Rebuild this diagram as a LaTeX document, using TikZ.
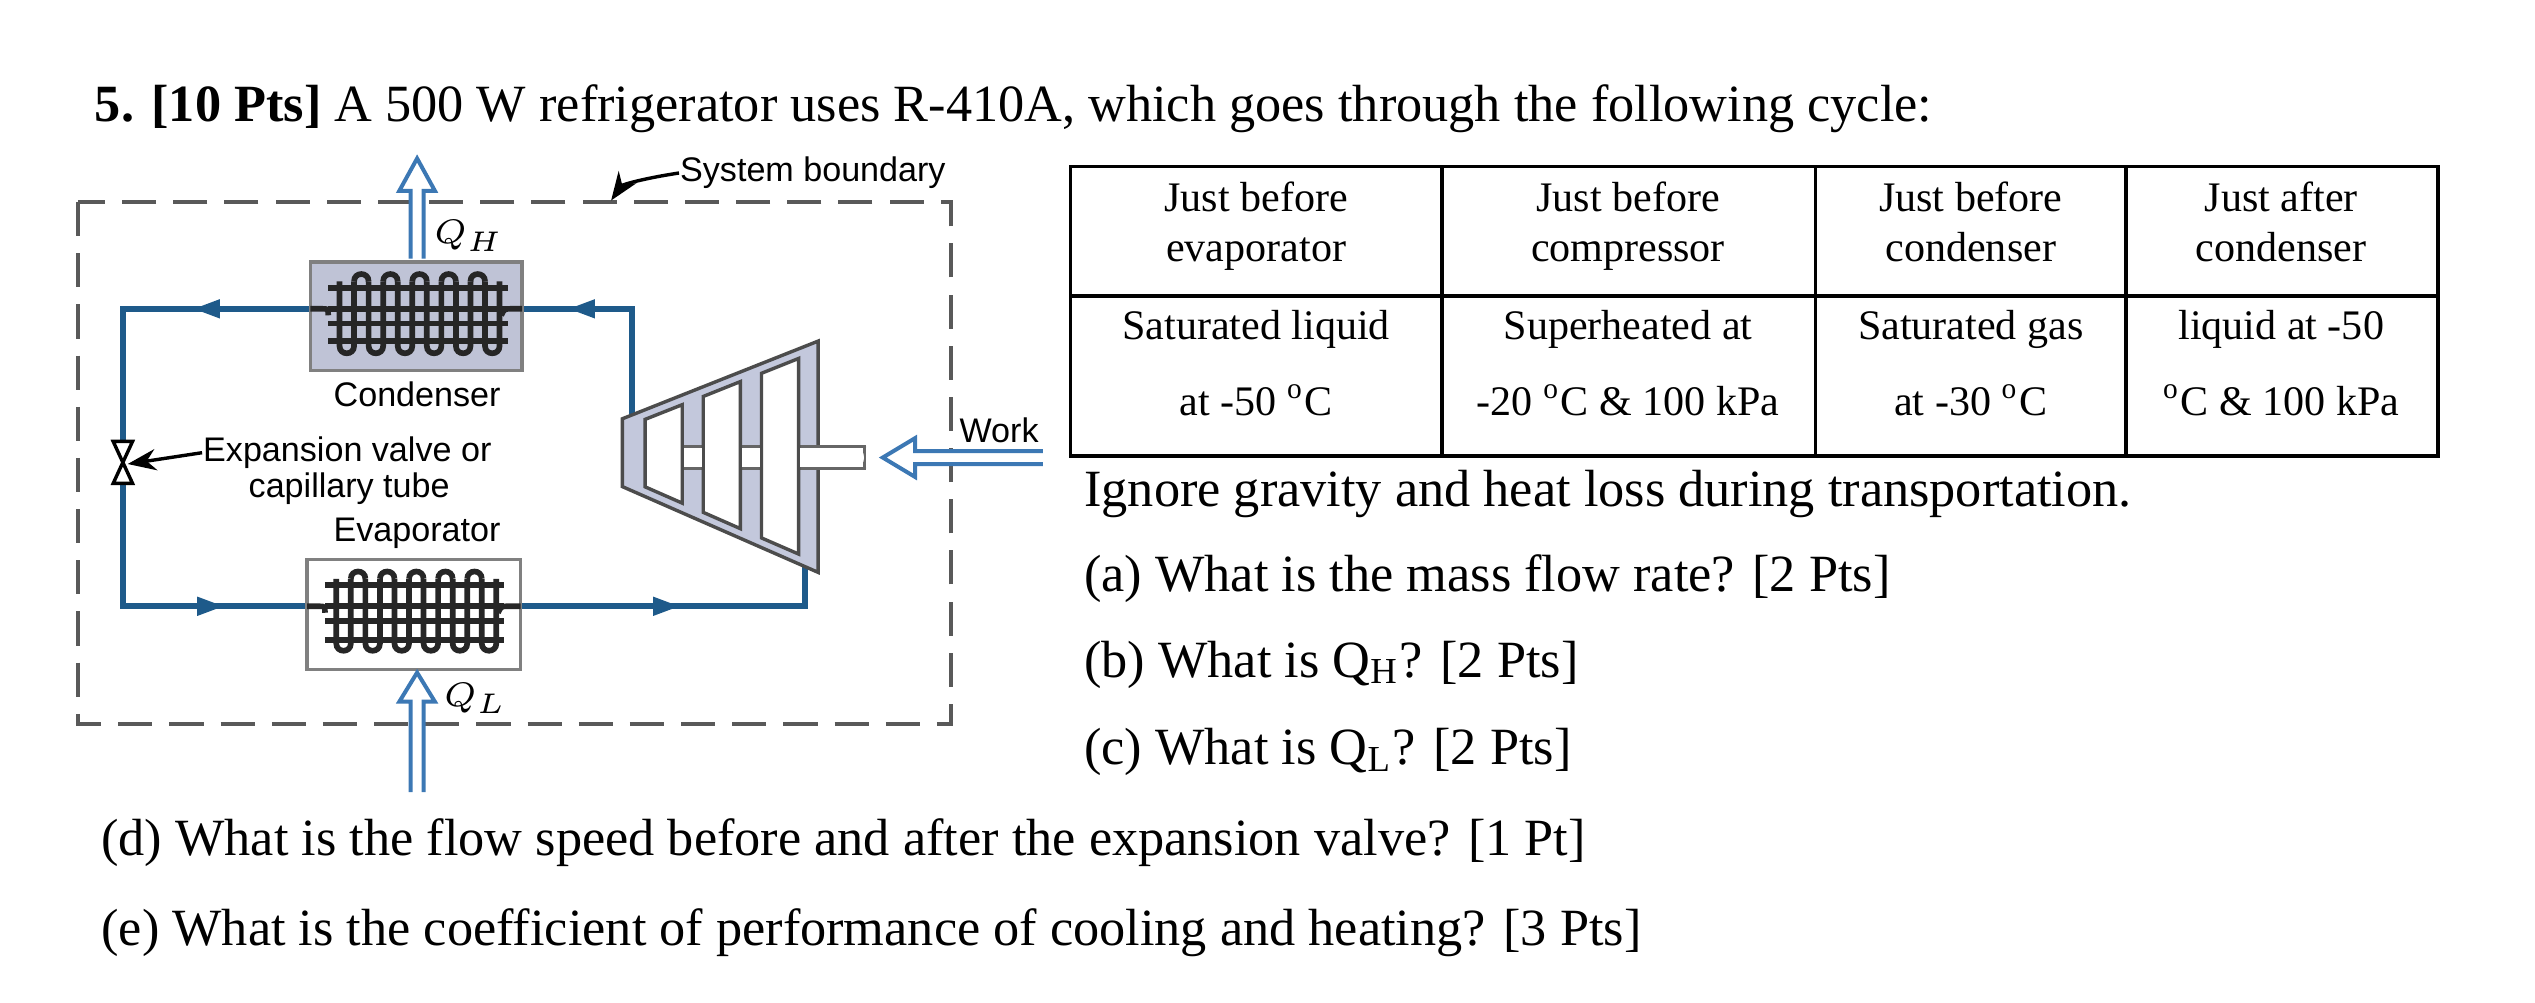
\documentclass[tikz,border=0pt]{standalone}
\usepackage{fontspec}
\setmainfont{Liberation Serif}
\newfontfamily\diagsans{Liberation Sans}
\usetikzlibrary{arrows.meta}
\definecolor{pipe}{HTML}{1E5A8A}
\definecolor{hollow}{HTML}{3C78B4}
\definecolor{compfill}{HTML}{C3C8DC}
\definecolor{condfill}{HTML}{BFC3D6}
\tikzset{
 txt/.style={font=\fontsize{9.2pt}{11pt}\selectfont, anchor=base west, inner sep=0},
 tab/.style={font=\fontsize{7.4pt}{8pt}\selectfont, anchor=base, inner sep=0},
 lab/.style={font=\diagsans\fontsize{6pt}{7pt}\selectfont, inner sep=0},
 pipeline/.style={draw=pipe, line width=1.1pt},
 coil/.style={draw=black!85, line width=1pt},
 hollowarrow/.style={draw=hollow, line width=0.7pt, fill=white, line join=miter},
 flow/.style={fill=pipe},
}
\newcommand{\serp}[3]{% x0, ytop, ybottom
  \foreach \k in {0,...,5} {
    \pgfmathsetmacro\xa{#1+18*\k}
    \pgfmathsetmacro\xb{#1+18*\k+9}
    \draw[coil] (\xa,#2) -- (\xa,#3) .. controls (\xa,#3+6) and (\xb,#3+6) .. (\xb,#3) -- (\xb,#2);
  }
  \foreach \k in {0,...,4} {
    \pgfmathsetmacro\xa{#1+18*\k+9}
    \pgfmathsetmacro\xb{#1+18*\k+18}
    \draw[coil] (\xa,#2) .. controls (\xa,#2-6) and (\xb,#2-6) .. (\xb,#2);
  }
}
\begin{document}
\begin{tikzpicture}[x=0.01cm,y=-0.01cm]
\useasboundingbox (0,0) rectangle (1568,620);
% title
\node[txt] (title) at (58,75) {\textbf{5. [10 Pts]} A 500 W refrigerator uses R-410A, which goes through the following cycle:};
% system boundary
\draw[draw=black!65, line width=0.7pt, dash pattern=on 6pt off 3pt] (48,125) rectangle (588,448);
\node[lab, anchor=west] (sb) at (420,107) {System boundary};
\draw[-{Stealth[length=5pt]}, line width=0.6pt] (sb.west) .. controls (400,110) and (385,114) .. (378,124);
% pipes
\draw[pipeline] (320,191) -- (391,191) -- (391,259);
\draw[pipeline] (192,191) -- (76,191) -- (76,273);
\draw[pipeline] (76,299) -- (76,375) -- (190,375);
\draw[pipeline] (322,375) -- (498,375) -- (498,350);
% flow arrowheads
\fill[flow] (120,191) -- (136,185) -- (136,197) -- cycle;
\fill[flow] (352,191) -- (368,185) -- (368,197) -- cycle;
\fill[flow] (138,375) -- (122,369) -- (122,381) -- cycle;
\fill[flow] (420,375) -- (404,369) -- (404,381) -- cycle;
% condenser
\draw[fill=condfill, draw=black!50, line width=0.6pt] (192,162) rectangle (323,229);
\foreach \y in {178,200,211} \draw[coil] (203,\y) -- (314,\y);
\draw[coil] (192,191) -- (199,191) .. controls (203,191) .. (203,195);
\draw[coil] (310,195) .. controls (312,191) .. (316,191) -- (323,191);
\draw[coil] (203,191) -- (314,191);
\serp{210}{174}{214}
\node[lab] (cond) at (258,244) {Condenser};
% evaporator
\draw[fill=white, draw=black!50, line width=0.6pt] (190,346) rectangle (322,414);
\foreach \y in {362,384,396} \draw[coil] (201,\y) -- (312,\y);
\draw[coil] (190,375) -- (197,375) .. controls (201,375) .. (201,379);
\draw[coil] (308,379) .. controls (310,375) .. (314,375) -- (322,375);
\draw[coil] (201,375) -- (312,375);
\serp{208}{358}{398}
\node[lab] (evap) at (258,330) {Evaporator};
% valve
\draw[fill=white, line width=0.6pt] (70,273) -- (82,273) -- (76,286) -- cycle;
\draw[fill=white, line width=0.6pt] (70,299) -- (82,299) -- (76,286) -- cycle;
\coordinate (valve) at (79,287);
\node[lab, anchor=west] (ev1) at (125,280) {Expansion valve or};
\node[lab] (ev2) at (216,302) {capillary tube};
\draw[-{Stealth[length=5pt]}, line width=0.6pt] (ev1.west) -- (valve);
% compressor
\draw[fill=compfill, draw=black!70, line width=0.6pt] (385,259) -- (506,211) -- (506,354) -- (385,301) -- cycle;
\draw[fill=white, draw=black!60, line width=0.5pt] (399,276) rectangle (535,290);
\draw[black!60, line width=0.5pt] (535,276) .. controls (532,283) .. (535,290);
\draw[fill=white, draw=black!70, line width=0.6pt] (399,259.4) -- (422,250.3) -- (422,311.2) -- (399,301.1) -- cycle;
\draw[fill=white, draw=black!70, line width=0.6pt] (435,245.2) -- (458,236) -- (458,327) -- (435,316.9) -- cycle;
\draw[fill=white, draw=black!70, line width=0.6pt] (471,230.9) -- (494,221.7) -- (494,342.7) -- (471,332.7) -- cycle;
\fill[white] (423,277) rectangle (434,289);
\fill[white] (459,277) rectangle (470,289);
\fill[white] (495,277) rectangle (534,289);
% hollow arrows
\draw[hollowarrow] (254,160) -- (254,118) -- (247,118) -- (258,98) -- (269,118) -- (262,118) -- (262,160);
\draw[hollowarrow] (254,490) -- (254,434) -- (247,434) -- (258,416) -- (269,434) -- (262,434) -- (262,490);
\draw[hollowarrow] (645,279) -- (566,279) -- (566,271) -- (546,283) -- (566,295) -- (566,287) -- (645,287);
\node[font=\fontsize{6pt}{7pt}\selectfont] (qh) at (290,146) {$Q_H$};
\node[font=\fontsize{6pt}{7pt}\selectfont] (ql) at (294,432) {$Q_L$};
\node[lab] (work) at (618,266) {Work};
% table
\draw[line width=0.6pt] (662,103) rectangle (1508,282);
\draw[line width=0.6pt] (662,183) -- (1508,183);
\foreach \x in {892,1123,1315} \draw[line width=0.6pt] (\x,103) -- (\x,282);
\node[tab] at (777,131) {Just before};
\node[tab] at (777,162) {evaporator};
\node[tab] at (1007,131) {Just before};
\node[tab] at (1007,162) {compressor};
\node[tab] at (1219,131) {Just before};
\node[tab] at (1219,162) {condenser};
\node[tab] at (1411,131) {Just after};
\node[tab] at (1411,162) {condenser};
\node[tab] at (777,210) {Saturated liquid};
\node[tab] at (777,257) {at -50 \textsuperscript{o}C};
\node[tab] at (1007,210) {Superheated at};
\node[tab] at (1007,257) {-20 \textsuperscript{o}C \& 100 kPa};
\node[tab] at (1219,210) {Saturated gas};
\node[tab] at (1219,257) {at -30 \textsuperscript{o}C};
\node[tab] at (1411,210) {liquid at -50};
\node[tab] at (1411,257) {\textsuperscript{o}C \& 100 kPa};
% questions
\node[txt] (q0) at (670,313) {Ignore gravity and heat loss during transportation.};
\node[txt] (qa) at (670,366) {(a) What is the mass flow rate? [2 Pts]};
\node[txt] (qb) at (670,419) {(b) What is Q\textsubscript{H}? [2 Pts]};
\node[txt] (qc) at (670,473) {(c) What is Q\textsubscript{L}? [2 Pts]};
\node[txt] (qd) at (62,529) {(d) What is the flow speed before and after the expansion valve? [1 Pt]};
\node[txt] (qe) at (62,585) {(e) What is the coefficient of performance of cooling and heating? [3 Pts]};
\end{tikzpicture}
\end{document}
